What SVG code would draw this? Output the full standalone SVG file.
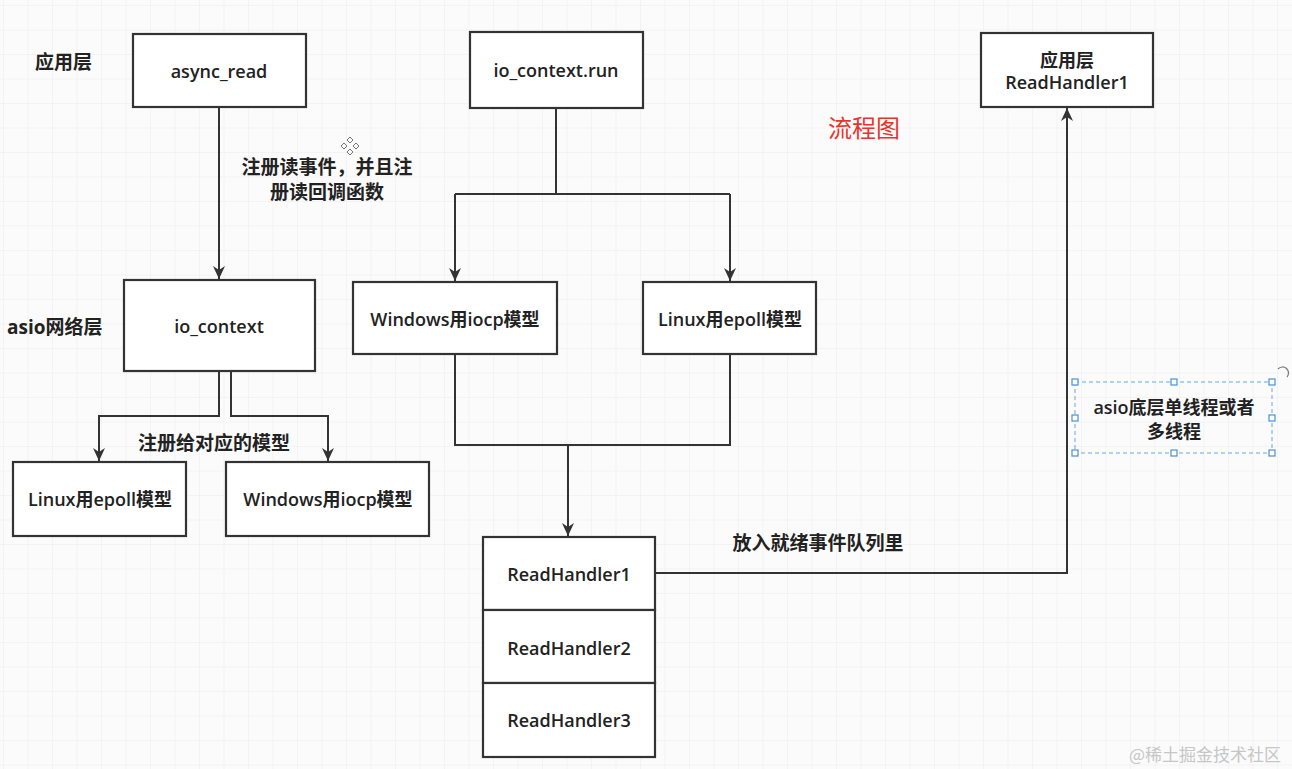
<svg xmlns="http://www.w3.org/2000/svg" width="1292" height="769" viewBox="0 0 1292 769">
<defs>
<pattern id="grid" width="24.5" height="24.5" patternUnits="userSpaceOnUse" x="4" y="6">
<path d="M24.5 0 V24.5 M0 24.5 H24.5" fill="none" stroke="#ebebeb" stroke-width="1"/>
</pattern>
<marker id="arr" markerUnits="userSpaceOnUse" markerWidth="14" markerHeight="12" viewBox="0 0 14 12" refX="13" refY="6" orient="auto">
<path d="M0 0 L13 6 L0 12 L4 6 Z" fill="#333"/>
</marker>
</defs>
<style>
.box{fill:#fff;stroke:#333;stroke-width:2.2}
.t{font-family:"Open Sans","Noto Sans CJK SC",sans-serif;font-weight:600;fill:#222;font-size:18px;text-anchor:middle;dominant-baseline:central}
.lbl{font-family:"Open Sans","Noto Sans CJK SC",sans-serif;font-weight:700;fill:#222;font-size:19px;dominant-baseline:central}
.c{fill:none;stroke:#333;stroke-width:2}
.h{fill:#fff;stroke:#4a90d9;stroke-width:1.2}
</style>
<rect width="1292" height="769" fill="#fbfbfb"/>
<rect width="1292" height="769" fill="url(#grid)"/>

<g id="labels">
<text class="lbl" x="35" y="62">应用层</text>
<text class="lbl" x="7" y="327">asio网络层</text>
<text class="lbl" x="327" y="167" text-anchor="middle">注册读事件，并且注</text>
<text class="lbl" x="327" y="192" text-anchor="middle">册读回调函数</text>
<text class="lbl" x="214" y="443" text-anchor="middle">注册给对应的模型</text>
<text class="lbl" x="818" y="543" text-anchor="middle">放入就绪事件队列里</text>
<text x="864" y="126" font-family="'Noto Sans CJK SC',sans-serif" font-size="24" fill="#e8342c" text-anchor="middle" dominant-baseline="central">流程图</text>
<text x="1205" y="753" font-family="'Noto Sans CJK SC',sans-serif" font-size="17" fill="#c6c6c6" text-anchor="middle" dominant-baseline="central">@稀土掘金技术社区</text>
</g>

<g id="move-icon" fill="none" stroke="#777" stroke-width="1">
<path d="M350 137 l3 3 l-3 3 l-3 -3 Z"/>
<path d="M344 143 l3 3 l-3 3 l-3 -3 Z"/>
<path d="M356 143 l3 3 l-3 3 l-3 -3 Z"/>
<path d="M350 149 l3 3 l-3 3 l-3 -3 Z"/>
</g>

<g id="connectors">
<path class="c" d="M219 107 V279" marker-end="url(#arr)"/>
<path class="c" d="M219 371 V416 H99 V461" marker-end="url(#arr)"/>
<path class="c" d="M231 371 V416 H328 V461" marker-end="url(#arr)"/>
<path class="c" d="M556 108 V194"/>
<path class="c" d="M455 194 H730"/>
<path class="c" d="M455 194 V281" marker-end="url(#arr)"/>
<path class="c" d="M730 194 V281" marker-end="url(#arr)"/>
<path class="c" d="M455 354 V445 H730 V354"/>
<path class="c" d="M568 445 V536" stroke-width="2.6" marker-end="url(#arr)"/>
<path class="c" d="M655 573 H1067 V108" marker-end="url(#arr)"/>
</g>

<g id="async_read"><rect class="box" x="133" y="34" width="173" height="73"/><text class="t" x="219" y="71">async_read</text></g>
<g id="io_context"><rect class="box" x="124" y="280" width="191" height="91"/><text class="t" x="219" y="326">io_context</text></g>
<g id="linux_left"><rect class="box" x="13" y="462" width="173" height="74"/><text class="t" x="100" y="499" font-size="17">Linux用epoll模型</text></g>
<g id="windows_left"><rect class="box" x="226" y="462" width="203" height="74"/><text class="t" x="328" y="499" font-size="17">Windows用iocp模型</text></g>
<g id="io_context_run"><rect class="box" x="470" y="32" width="173" height="76"/><text class="t" x="556" y="70">io_context.run</text></g>
<g id="windows_mid"><rect class="box" x="353" y="282" width="204" height="72"/><text class="t" x="455" y="319" font-size="17">Windows用iocp模型</text></g>
<g id="linux_mid"><rect class="box" x="643" y="282" width="173" height="72"/><text class="t" x="730" y="319" font-size="17">Linux用epoll模型</text></g>
<g id="rh1"><rect class="box" x="483" y="537" width="172" height="73"/><text class="t" x="569" y="574">ReadHandler1</text></g>
<g id="rh2"><rect class="box" x="483" y="610" width="172" height="73"/><text class="t" x="569" y="648">ReadHandler2</text></g>
<g id="rh3"><rect class="box" x="483" y="683" width="172" height="74"/><text class="t" x="569" y="720">ReadHandler3</text></g>
<g id="app_handler"><rect class="box" x="981" y="33" width="172" height="74"/><text class="t" x="1067" y="60">应用层</text><text class="t" x="1067" y="82">ReadHandler1</text></g>

<g id="asio_note">
<rect x="1075" y="382" width="197" height="71" fill="none" stroke="#6aa7e0" stroke-width="1" stroke-dasharray="4 3"/>
<text class="t" x="1174" y="407">asio底层单线程或者</text>
<text class="t" x="1174" y="431">多线程</text>
<rect class="h" x="1072" y="379" width="6" height="6"/>
<rect class="h" x="1171" y="379" width="6" height="6"/>
<rect class="h" x="1269" y="379" width="6" height="6"/>
<rect class="h" x="1072" y="415" width="6" height="6"/>
<rect class="h" x="1269" y="415" width="6" height="6"/>
<rect class="h" x="1072" y="450" width="6" height="6"/>
<rect class="h" x="1171" y="450" width="6" height="6"/>
<rect class="h" x="1269" y="450" width="6" height="6"/>
<path d="M1278 369 A5 5 0 1 1 1287 377" fill="none" stroke="#777" stroke-width="1.2"/>
</g>
</svg>
